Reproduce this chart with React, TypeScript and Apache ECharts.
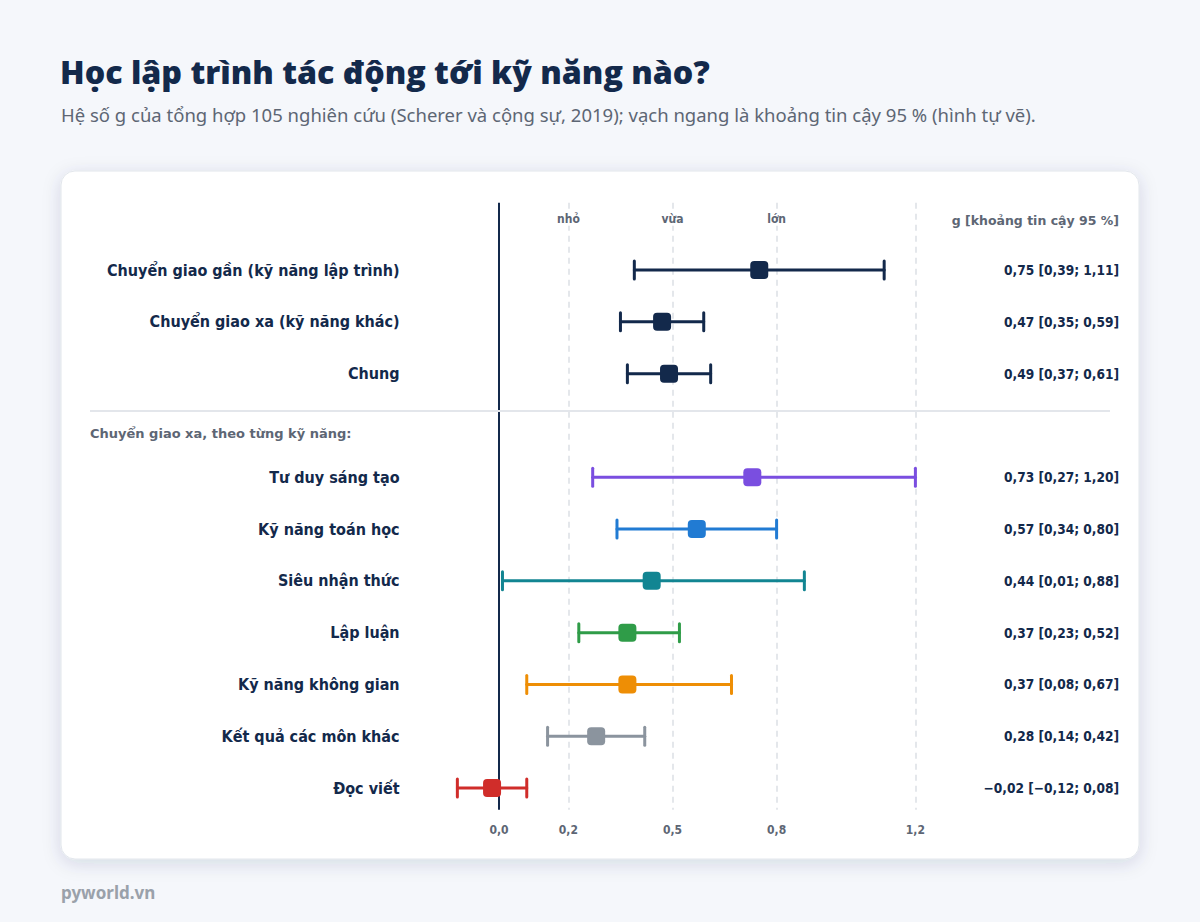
import React, { useEffect, useRef } from "react";
import * as echarts from "echarts";

const overallRows = ["Chuyển giao gần (kỹ năng lập trình)", "Chuyển giao xa (kỹ năng khác)", "Chung"];
const skillRows = ["Tư duy sáng tạo", "Kỹ năng toán học", "Siêu nhận thức", "Lập luận", "Kỹ năng không gian", "Kết quả các môn khác", "Đọc viết"];
const estimates = [0.75, 0.47, 0.49, 0.73, 0.57, 0.44, 0.37, 0.37, 0.28, -0.02];
const lower = [0.39, 0.35, 0.37, 0.27, 0.34, 0.01, 0.23, 0.08, 0.14, -0.12];
const upper = [1.11, 0.59, 0.61, 1.2, 0.8, 0.88, 0.52, 0.67, 0.42, 0.08];
const rowColors = ["#13294b", "#13294b", "#13294b", "#7a4ee0", "#217bd3", "#128592", "#2f9c48", "#ee8e05", "#8b949e", "#d02d2a"];
const tickValues = [0, 0.2, 0.5, 0.8, 1.2];
const effectValues = [0.2, 0.5, 0.8];
const effectLabels = ["nhỏ", "vừa", "lớn"];

const FONT = "'Noto Sans', sans-serif";
const CFONT = "'DejaVu Sans Condensed', 'DejaVu Sans', sans-serif";
const WFONT = "'DejaVu Sans', sans-serif";
const NAVY = "#13294b";
const GRAY = "#5d6674";

const fmt = (v: number, d = 2) => {
  const s = Math.abs(v).toFixed(d).replace(".", ",");
  return (v < 0 ? "−" : "") + s;
};

export default function App() {
  const ref = useRef<HTMLDivElement>(null);
  useEffect(() => {
    document.body.style.margin = "0";
    if (!ref.current) return;
    const chart = echarts.init(ref.current, undefined, { renderer: "svg" });

    const names = [...overallRows, ...skillRows];
    const positions = names.map((_, i) => (i < overallRows.length ? i : i + 1));
    const nameByPos: Record<number, string> = {};
    const valueByPos: Record<number, string> = {};
    positions.forEach((p, i) => {
      nameByPos[p] = names[i];
      valueByPos[p] = `${fmt(estimates[i])} [${fmt(lower[i])}; ${fmt(upper[i])}]`;
    });
    const data = positions.map((p, i) => [p, estimates[i], lower[i], upper[i]]);

    const xMin = -0.2, xMax = 1.3;
    const yMin = -1.3, yMax = 10.42;
    const gridLeft = 429.6, gridWidth = 520.5;
    const gridTop = 202.7, gridHeight = 607.1;

    chart.setOption({
      animation: false,
      backgroundColor: "#f5f7fb",
      textStyle: { fontFamily: CFONT },
      grid: { left: gridLeft, top: gridTop, width: gridWidth, height: gridHeight, containLabel: false },
      xAxis: [
        {
          type: "value", min: xMin, max: xMax, position: "bottom",
          axisLine: { show: false }, axisTick: { show: false }, splitLine: { show: false },
          axisLabel: {
            customValues: tickValues, margin: 14, color: GRAY, fontWeight: "bold", fontSize: 12, fontFamily: CFONT,
            formatter: (v: number) => fmt(v, 1),
          },
        },
        {
          type: "value", min: xMin, max: xMax, position: "top", z: 10,
          axisLine: { show: false }, axisTick: { show: false }, splitLine: { show: false },
          axisLabel: {
            inside: true, customValues: effectValues, margin: 9, color: GRAY, fontWeight: "bold", fontSize: 12, fontFamily: CFONT,
            backgroundColor: "#ffffff", padding: [1, 3],
            formatter: (v: number) => effectLabels[effectValues.findIndex((e) => Math.abs(e - v) < 1e-6)] ?? "",
          },
        },
      ],
      yAxis: [
        {
          type: "value", inverse: true, min: yMin, max: yMax, position: "left",
          axisLine: { show: false }, axisTick: { show: false }, splitLine: { show: false },
          axisLabel: {
            customValues: positions, margin: 30, color: NAVY, fontWeight: "bold", fontSize: 16, fontFamily: CFONT,
            formatter: (v: number) => nameByPos[Math.round(v)] ?? "",
          },
        },
        {
          type: "value", inverse: true, min: yMin, max: yMax, position: "right",
          axisLine: { show: false }, axisTick: { show: false }, splitLine: { show: false },
          axisLabel: {
            customValues: positions, margin: 169, align: "right", color: NAVY, fontWeight: "bold", fontSize: 13.6, fontFamily: CFONT,
            formatter: (v: number) => valueByPos[Math.round(v)] ?? "",
          },
        },
      ],
      series: [
        {
          type: "scatter", data: [], z: 1, silent: true,
          markLine: {
            silent: true, symbol: "none", label: { show: false },
            data: [
              ...effectValues.concat([1.2]).map((v) => ({ xAxis: v, lineStyle: { color: "#dcdfe5", width: 1.5, type: [6, 5] } })),
              { xAxis: 0, lineStyle: { color: NAVY, width: 2, type: "solid" } },
            ],
          },
        },
        {
          type: "custom", z: 5, data,
          renderItem: (params: any, api: any) => {
            const pos = api.value(0), est = api.value(1), lo = api.value(2), hi = api.value(3);
            const pLo = api.coord([lo, pos]);
            const pHi = api.coord([hi, pos]);
            const pE = api.coord([est, pos]);
            const color = rowColors[params.dataIndex];
            const st = { stroke: color, lineWidth: 3, lineCap: "round" };
            return {
              type: "group",
              children: [
                { type: "line", shape: { x1: pLo[0], y1: pLo[1], x2: pHi[0], y2: pHi[1] }, style: st },
                { type: "line", shape: { x1: pLo[0], y1: pLo[1] - 9, x2: pLo[0], y2: pLo[1] + 9 }, style: st },
                { type: "line", shape: { x1: pHi[0], y1: pHi[1] - 9, x2: pHi[0], y2: pHi[1] + 9 }, style: st },
                { type: "rect", shape: { x: pE[0] - 9, y: pE[1] - 9, width: 18, height: 18, r: 4 }, style: { fill: color } },
              ],
            };
          },
        },
      ],
      graphic: [
        {
          type: "rect", z: -10, silent: true,
          shape: { x: 61, y: 171, width: 1078, height: 688, r: 14 },
          style: { fill: "#ffffff", stroke: "#e2e6ec", lineWidth: 1, shadowBlur: 18, shadowOffsetY: 4, shadowColor: "rgba(30,50,90,0.14)" },
        },
        {
          type: "text", x: 60, y: 71,
          style: { text: "Học lập trình tác động tới kỹ năng nào?", fill: NAVY, fontSize: 32.2, fontWeight: 800, fontFamily: "'Open Sans', sans-serif", align: "left", verticalAlign: "middle" },
        },
        {
          type: "text", x: 61, y: 114,
          style: { text: "Hệ số g của tổng hợp 105 nghiên cứu (Scherer và cộng sự, 2019); vạch ngang là khoảng tin cậy 95 % (hình tự vẽ).", fill: GRAY, fontSize: 18.5, fontFamily: FONT, align: "left", verticalAlign: "middle" },
        },
        {
          type: "text", z: 20, x: 1119, y: 220,
          style: { text: "g [khoảng tin cậy 95 %]", fill: GRAY, fontSize: 12.5, fontWeight: "bold", fontFamily: WFONT, align: "right", verticalAlign: "middle" },
        },
        {
          type: "line", z: 20, shape: { x1: 90, y1: 411, x2: 1110, y2: 411 },
          style: { stroke: "#e3e6eb", lineWidth: 2 },
        },
        {
          type: "text", z: 20, x: 90, y: 433,
          style: { text: "Chuyển giao xa, theo từng kỹ năng:", fill: GRAY, fontSize: 13, fontWeight: "bold", fontFamily: WFONT, align: "left", verticalAlign: "middle" },
        },
        {
          type: "text", x: 61, y: 892,
          style: { text: "pyworld.vn", fill: "#9aa1aa", fontSize: 17, fontWeight: "bold", fontFamily: FONT, align: "left", verticalAlign: "middle" },
        },
      ],
    });
    return () => chart.dispose();
  }, []);
  return <div ref={ref} style={{ width: 1200, height: 922 }} />;
}
